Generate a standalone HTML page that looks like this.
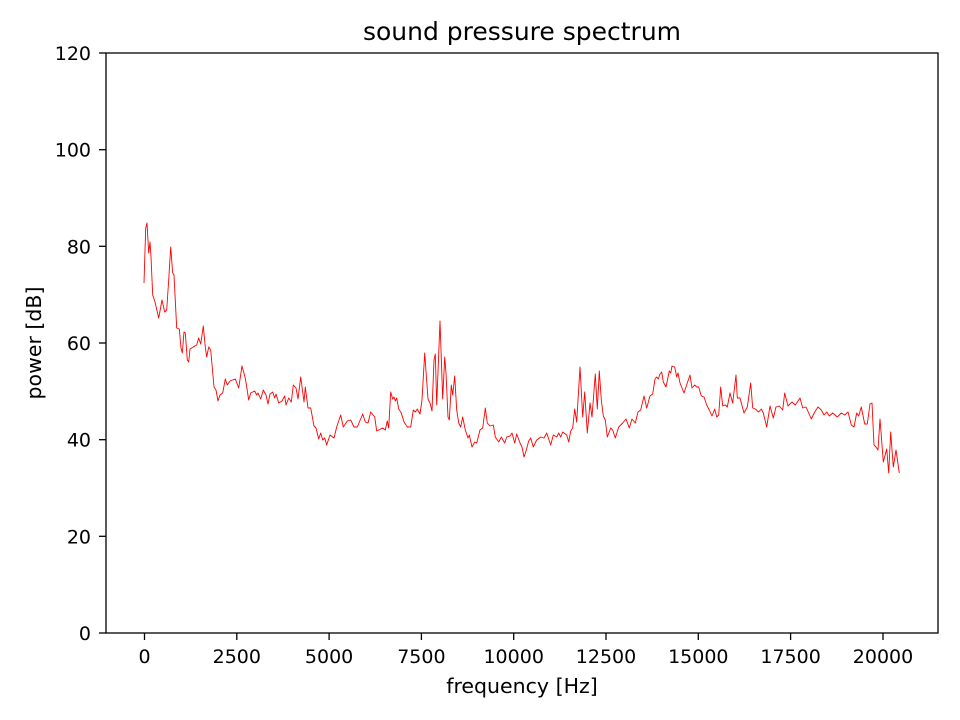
<!DOCTYPE html>
<html><head><meta charset="utf-8"><style>
html,body{margin:0;padding:0;background:#fff;}
svg{display:block;font-family:"DejaVu Sans","Liberation Sans",sans-serif;}
</style></head><body>
<svg width="960" height="720" viewBox="0 0 960 720" xmlns="http://www.w3.org/2000/svg">
<rect width="960" height="720" fill="#fff"/>
<polyline fill="none" stroke="#ff0000" stroke-width="0.9" stroke-linejoin="round" points="
144,283 145.7,228 147,223 148.7,253 150,242 151,257 152.7,295 155,302 158.7,318 162,300 164.7,312 166.7,310 168.7,280 170.7,247 172.7,273 174,275 176.7,328 179.3,329 181,348 182.3,353 184,332 185.3,333 187.3,360 188.7,362 190,349 193.3,347 196.7,345 198.7,338 200.7,344 203.3,326 205.3,347 206.7,357 208.7,347 210.7,350 214,387 216,390 218,401 220,395 222.7,393 225.3,379 227.3,385 230,381 235.3,379 238.7,388 242,366 245.3,378 248.7,400 250.7,393 254.7,391 256.7,395 258,393 260.7,399 263.3,390 266,395 268,404 270,394 272.7,392 274.7,398 276,394 278.7,403 282,401 284.7,396 286,405 288.7,398 291.3,402 293.3,385 296,388 298,399 300.7,377 302.7,392 304,402 305.3,387 308,408 310.7,408 314,426 316,428 318.7,439 320.7,433 322.7,440 324.7,438 326.7,445 330,435 334,438 336.7,427 340.7,415 343.3,427 347.3,421 350.7,420 354,427 357.3,427 362.7,414 365.3,422 368,423 370.7,412 374.7,417 376.7,431 382.7,428 385.3,430 387.3,421 388.7,428 390.7,392 392.7,399 394,397 395.3,401 396.7,398 398.7,409 401.3,413 404,422 407.3,427 410.7,427 413.3,410 415.3,412 417.3,409 420,414 422,400 424.7,353 428,399 430,403 432,411 434,360 435.3,354 436.7,405 440,321 442.7,399 444.7,357 446,373 448,417 449.3,420 451.3,385 452.7,395 454.7,376 456.7,410 458.7,423 460.7,427 462.7,417 465.3,430 468,438 469.3,435 472,447 474.7,442 476.7,443 480,430 482.7,428 485.3,408 487.3,423 490,426 493.3,425 495.3,437 498.7,442 501.3,437 504.7,443 506.7,437 510,436 512,433 514.7,443 516.7,434 520,443 522,447 524,457 526,451 528.7,441 530.7,438 533.3,447 536.7,440 540.7,437 544,438 546.7,433 550.7,445 553.3,435 556.7,437 558.7,433 560.7,437 562.7,432 566.7,435 568.7,442 570.7,431 572.7,428 574.7,409 576.7,422 580,367 582.7,417 584.7,392 587.3,433 590,403 592,417 595.3,374 597.3,409 599.3,371 601.3,400 603.3,416 605.3,420 607.3,437 610.7,428 612.7,430 615.3,438 618.7,427 622.7,423 626,419 629.3,428 632,419 635.3,423 638,412 640.7,410 644,396 646.7,408 650,396 652.7,394 655,379 656.7,377 658.3,379 660,374 661.7,372 663.3,382 666,387 669.3,371 670.7,373 672,366 674.7,367 676.7,377 678,373 680,383 684,393 687.3,383 690,375 692,388 694.7,385 696.7,387 698.7,387 701.3,396 704,397 706.7,405 709.3,410 712,416 714.7,409 716.7,417 718.7,415 720.7,387 722.7,406 725.3,405 727.3,407 730,393 732.7,403 736,375 737.3,398 740,398 744,413 747.3,407 750.7,383 752.7,408 755.3,409 758.7,412 761.3,409 763.3,413 766.7,427 770,406 773.3,418 776,407 779.3,406 782.7,410 784.7,393 788,406 792,402 795.3,405 800,398 802.7,408 806,407 808.7,413 811.3,419 814.7,412 818,407 821.3,410 824,415 826.7,412 829.3,416 832.7,413 837.3,417 841.3,413 844.7,415 848,412 851.3,425 854,427 856.7,413 858.7,416 861.3,407 864.7,424 867.3,424 870,404 872,403 874,445 876,447 878,450 880,419 883.3,462 886.7,449 888.7,473 890.7,432 893.3,467 896,450 899.3,473"/>
<rect x="106" y="53" width="832" height="580" fill="none" stroke="#000" stroke-width="1.3"/>
<g stroke="#000" stroke-width="1.3">
<line x1="144.5" y1="633" x2="144.5" y2="640"/><line x1="236.8" y1="633" x2="236.8" y2="640"/><line x1="329.1" y1="633" x2="329.1" y2="640"/><line x1="421.4" y1="633" x2="421.4" y2="640"/><line x1="513.7" y1="633" x2="513.7" y2="640"/><line x1="606" y1="633" x2="606" y2="640"/><line x1="698.3" y1="633" x2="698.3" y2="640"/><line x1="790.6" y1="633" x2="790.6" y2="640"/><line x1="883" y1="633" x2="883" y2="640"/>
<line x1="99" y1="633" x2="106" y2="633"/><line x1="99" y1="536.3" x2="106" y2="536.3"/><line x1="99" y1="439.7" x2="106" y2="439.7"/><line x1="99" y1="343" x2="106" y2="343"/><line x1="99" y1="246.3" x2="106" y2="246.3"/><line x1="99" y1="149.7" x2="106" y2="149.7"/><line x1="99" y1="53" x2="106" y2="53"/>
</g>
<g font-size="19" text-anchor="middle" fill="#000">
<text x="144.5" y="663">0</text><text x="236.8" y="663">2500</text><text x="329.1" y="663">5000</text><text x="421.4" y="663">7500</text><text x="513.7" y="663">10000</text><text x="606" y="663">12500</text><text x="698.3" y="663">15000</text><text x="790.6" y="663">17500</text><text x="883" y="663">20000</text>
</g>
<g font-size="19" text-anchor="end" fill="#000">
<text x="91" y="640">0</text><text x="91" y="543.3">20</text><text x="91" y="446.7">40</text><text x="91" y="350">60</text><text x="91" y="253.3">80</text><text x="91" y="156.7">100</text><text x="91" y="60">120</text>
</g>
<text x="522" y="693" font-size="20.5" text-anchor="middle">frequency [Hz]</text>
<text x="0" y="0" font-size="20.5" text-anchor="middle" transform="translate(41,343) rotate(-90)">power [dB]</text>
<text x="522" y="40" font-size="25" text-anchor="middle">sound pressure spectrum</text>
</svg>
</body></html>
